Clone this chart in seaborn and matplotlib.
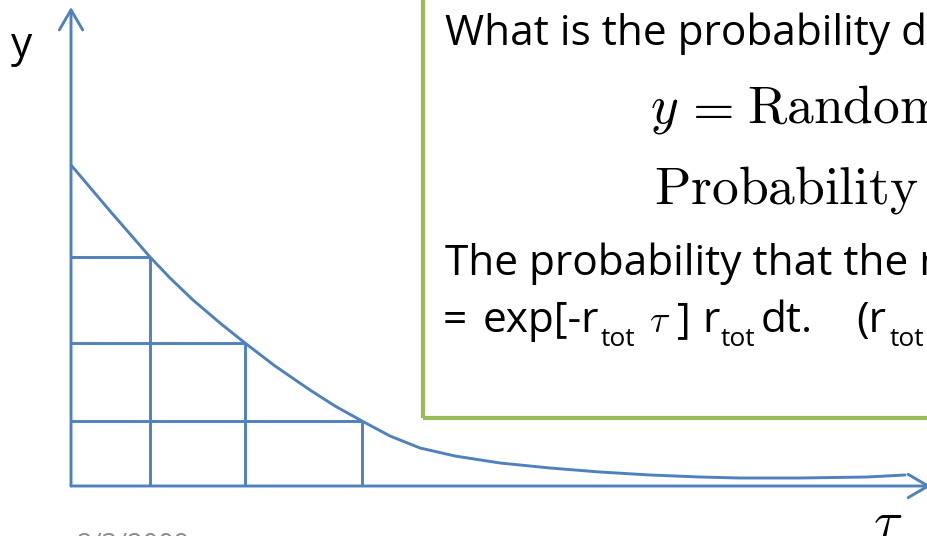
import matplotlib
matplotlib.use("Agg")
import matplotlib.pyplot as plt
from matplotlib.patches import Rectangle
import seaborn as sns
import pandas as pd

sns.set_theme(style="white")
plt.rcParams["font.family"] = ["Open Sans", "DejaVu Sans"]
plt.rcParams["mathtext.fontset"] = "cm"

# Waiting-time curve (tau, y) and the staircase levels that sit on it
tau_vals = [0, 39, 79, 99, 122, 149, 174, 204, 239, 264, 291, 319, 349, 384,
            429, 479, 529, 579, 629, 669, 729, 796, 834]
y_vals = [321, 275, 229, 208, 186, 163, 143, 120, 96, 80, 65, 50, 38, 30,
          23, 18, 14, 11, 9, 8, 8, 9, 11]
step_tau = [79, 174, 291]
step_y = [229, 143, 65]

date_text = "2/3/2009"

BLUE = "#4F81BD"
GREEN = "#9BBB59"
W, H = 928, 536
OX, OY = 71, 486  # pixel position of the origin
LW = 2.1

fig = plt.figure(figsize=(W / 100, H / 100), dpi=100)
ax = fig.add_axes([0, 0, 1, 1])
ax.set_xlim(-OX, W - OX)
ax.set_ylim(-(H - OY), OY)
ax.axis("off")

df = pd.DataFrame({"tau": tau_vals, "y": y_vals})
sns.lineplot(data=df, x="tau", y="y", ax=ax, color=BLUE, lw=LW, sort=False,
             estimator=None, solid_capstyle="round", solid_joinstyle="round")

# staircase grid under the curve
ax.hlines(step_y, 0, step_tau, color=BLUE, lw=LW)
ax.vlines(step_tau, 0, step_y, color=BLUE, lw=LW)

# axes with open arrow heads
arrow = dict(arrowstyle="->,head_length=1.2,head_width=0.7", color=BLUE, lw=LW,
             shrinkA=0, shrinkB=0)
ax.annotate("", xy=(0, OY - 7), xytext=(0, 0), arrowprops=arrow,
            annotation_clip=False)
ax.annotate("", xy=(W - OX + 3, 0), xytext=(0, 0), arrowprops=arrow,
            annotation_clip=False)

# text box
ax.add_patch(Rectangle((423 - OX, OY - 418), 700, 600, fill=False, ec=GREEN,
                       lw=3.0, joinstyle="round"))


def ftext(px, py, s, **kw):
    kw.setdefault("va", "baseline")
    kw.setdefault("ha", "left")
    kw.setdefault("color", "black")
    return fig.text(px / W, 1 - py / H, s, **kw)


BODY = 30.5
SUB = 19
MATH = 38.5
ftext(445, 45, "What is the probability distribution", fontsize=BODY)
ftext(650, 123, r"$y$", fontsize=MATH)
ftext(683, 123, r"$=$", fontsize=MATH)
ftext(747, 123, r"$\mathrm{Random\ number}$", fontsize=MATH)
ftext(654, 203, r"$\mathrm{Probability}$", fontsize=MATH)
ftext(445, 275, "The probability that the reaction occurs", fontsize=BODY)

line2 = [
    (443, 332, "=", BODY, None),
    (483, 332, "exp[-r", BODY, None),
    (601, 346, "tot", SUB, None),
    (649, 332, r"$\tau$", 27, "cm"),
    (677, 332, "]", BODY, None),
    (702, 332, "r", BODY, None),
    (721, 346, "tot", SUB, None),
    (761, 332, "dt.", BODY, None),
    (856, 332, "(r", BODY, None),
    (890, 346, "tot", SUB, None),
]
for px, py, s, fs, mf in line2:
    kw = dict(fontsize=fs)
    if mf:
        kw["math_fontfamily"] = mf
    ftext(px, py, s, **kw)

ftext(11, 57, "y", fontsize=BODY)
ftext(873, 538, r"$\tau$", fontsize=MATH)
ftext(77, 553, date_text, fontsize=19.5, color="#8C8C8C")

fig.savefig("out.png", dpi=100)
